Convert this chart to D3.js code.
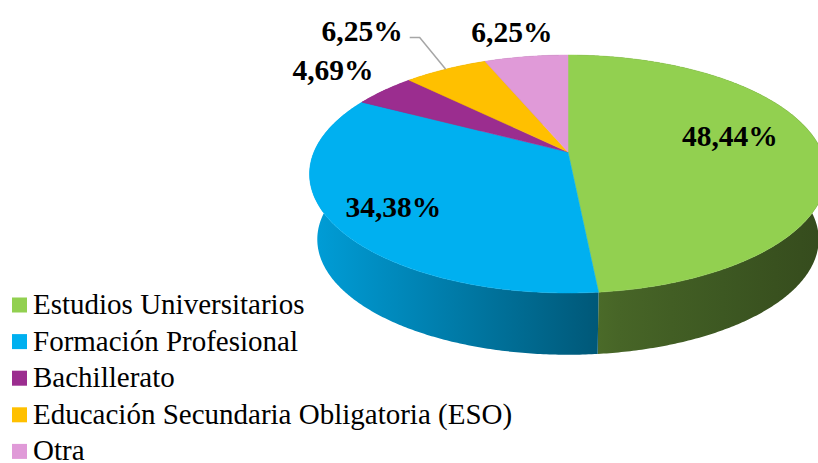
<!DOCTYPE html>
<html>
<head>
<meta charset="utf-8">
<script src="https://cdn.jsdelivr.net/npm/d3@7"></script>
<style>
  body { margin: 0; background: #fff; }
  svg { display: block; }
</style>
</head>
<body>
<div id="chart"></div>
<script>
// Datos
const categories = [
  "Estudios Universitarios",
  "Formación Profesional",
  "Bachillerato",
  "Educación Secundaria Obligatoria (ESO)",
  "Otra"
];
const values = [48.44, 34.38, 4.69, 6.25, 6.25];
const labels = ["48,44%", "34,38%", "4,69%", "6,25%", "6,25%"];
const colors = ["#92D050", "#00B0F0", "#9B2D8F", "#FFC000", "#E09AD8"];

// posición de etiquetas (radio relativo + ajuste fino)
const labelR = [0.65, 0.75, 1.3, 1.3, 1.3];
const labelNudge = [[-2, -13], [-3, 3], [-3, -4], [-53, -18], [-4, -2]];

const serif = '"Liberation Serif"';
const width = 818, height = 463;

const svg = d3
  .select("#chart")
  .append("svg")
  .attr("width", width)
  .attr("height", height);

const defs = svg.append("defs");

// proyección en perspectiva del disco
const cx = 568, cy = 152;
const P = { a: 114.9, b: 0.185, c: 254 };
const bottom = { cy: 218, k: 0.97 };

function proj(theta, r, level) {
  const u = Math.sin(theta) * r;
  const v = -Math.cos(theta) * r;
  const s = 1 / (1 - P.b * v);
  if (level === 1) {
    return [cx + bottom.k * P.c * u * s, bottom.cy + bottom.k * P.a * v * s];
  }
  return [cx + P.c * u * s, cy + P.a * v * s];
}

const pie = d3.pie().sort(null).value((d) => d);
const arcs = pie(values);

function arcPoints(a0, a1, level) {
  const n = Math.max(2, Math.ceil((a1 - a0) / 0.01));
  return d3.range(n + 1).map((i) => proj(a0 + ((a1 - a0) * i) / n, 1, level));
}

// sombreado de la pared según x
const shade = d3.scaleLinear().domain([310, 598, 820]).range([0.9, 0.5, 0.36]).clamp(true);

function scaleColor(col, k) {
  const c = d3.rgb(col);
  return d3.rgb(c.r * k, c.g * k, c.b * k).formatHex();
}

// paredes
const walls = svg.append("g");
arcs.forEach((d, i) => {
  const top = arcPoints(d.startAngle, d.endAngle, 0);
  const bot = arcPoints(d.startAngle, d.endAngle, 1).reverse();
  const xs = top.concat(bot).map((p) => p[0]);
  const x0 = d3.min(xs), x1 = d3.max(xs);
  const grad = defs
    .append("linearGradient")
    .attr("id", "wall" + i)
    .attr("gradientUnits", "userSpaceOnUse")
    .attr("x1", x0).attr("y1", 0)
    .attr("x2", x1).attr("y2", 0);
  d3.range(6).forEach((j) => {
    const x = x0 + ((x1 - x0) * j) / 5;
    grad.append("stop")
      .attr("offset", j / 5)
      .attr("stop-color", scaleColor(colors[i], shade(x)));
  });
  walls.append("path")
    .attr("d", d3.line()(top.concat(bot)) + "Z")
    .attr("fill", `url(#wall${i})`);
});

// cara superior
const topG = svg.append("g");
arcs.forEach((d, i) => {
  const pts = [proj(0, 0, 0)].concat(arcPoints(d.startAngle, d.endAngle, 0));
  topG.append("path")
    .attr("d", d3.line()(pts) + "Z")
    .attr("fill", colors[i])
    .attr("stroke", colors[i])
    .attr("stroke-width", 0.5);
});

// etiquetas
const labG = svg.append("g");

arcs.forEach((d, i) => {
  const mid = (d.startAngle + d.endAngle) / 2;
  const p = proj(mid, labelR[i], 0);
  const lx = p[0] + labelNudge[i][0];
  const ly = p[1] + labelNudge[i][1];
  const t = labG.append("text")
    .attr("x", lx)
    .attr("y", ly)
    .attr("dy", "0.35em")
    .attr("text-anchor", "middle")
    .style("font-family", serif)
    .style("font-weight", "bold")
    .style("font-size", "29.5px")
    .attr("fill", "#000")
    .text(labels[i]);
  // línea guía cuando la etiqueta se ha desplazado
  if (Math.abs(labelNudge[i][0]) > 20) {
    const hw = t.node().getComputedTextLength() / 2;
    const s = [lx + hw + 7, ly + 7];
    const k = [s[0] + 10, s[1]];
    const e = proj(mid, 1, 0);
    svg.append("path")
      .attr("d", d3.line()([s, k, e]))
      .attr("fill", "none")
      .attr("stroke", "#A6A6A6")
      .attr("stroke-width", 1.5);
  }
});

// leyenda
const legend = svg.append("g");

const legendItem = legend
  .selectAll(".legend-item")
  .data(categories)
  .enter()
  .append("g")
  .attr("class", "legend-item")
  .attr("transform", (d, i) => `translate(0, ${305 + i * 36.6})`);

legendItem.append("rect")
  .attr("x", 12)
  .attr("y", -7.5)
  .attr("width", 15)
  .attr("height", 15)
  .attr("fill", (d, i) => colors[i]);

legendItem.append("text")
  .attr("x", 33)
  .attr("y", 9)
  .style("font-family", serif)
  .style("font-size", "29px")
  .attr("fill", "#000")
  .text((d) => d);
</script>
</body>
</html>
